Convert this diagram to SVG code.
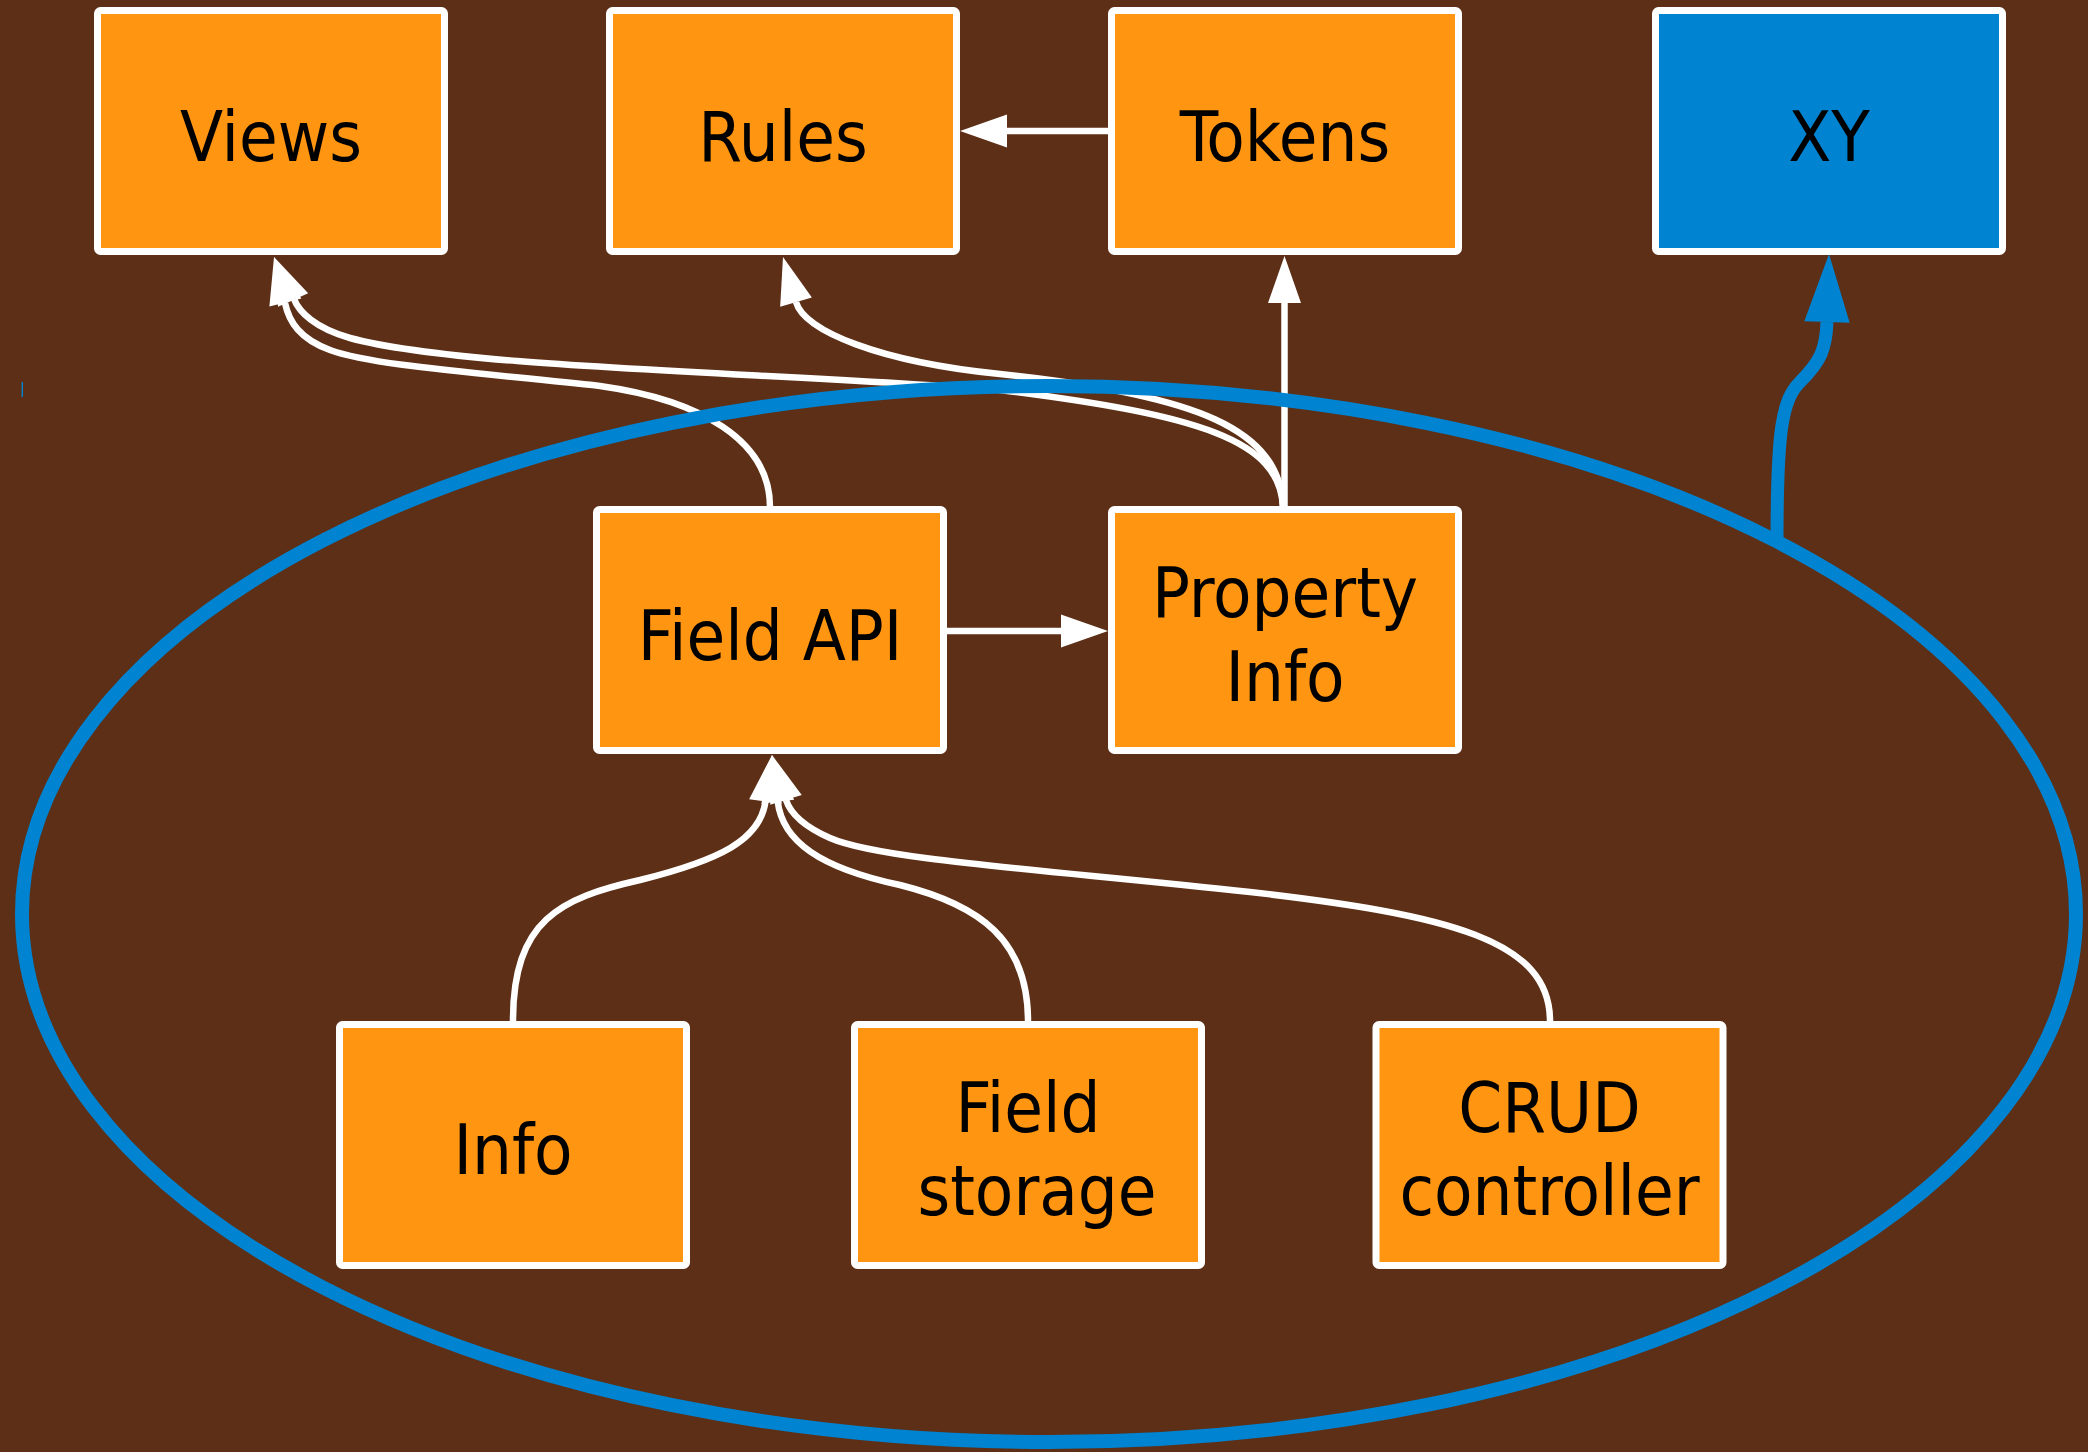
<svg xmlns="http://www.w3.org/2000/svg" width="2088" height="1452" viewBox="0 0 2088 1452">
<style>
.bg{fill:#5C2F16}
.box rect{fill:#FF9511;stroke:#fff;stroke-width:7}
.box.xy rect{fill:#0083D0}
.box text{font-family:'DejaVu Sans Condensed','DejaVu Sans',sans-serif;font-stretch:condensed;font-size:70px;fill:#000;text-anchor:middle}
.edge{fill:none;stroke:#fff;stroke-width:6.5}
.blue{fill:none;stroke:#0083D0;stroke-width:13}
.cluster{fill:none;stroke:#0083D0;stroke-width:14}
</style>
<defs>
<path id="ah" d="M0,0 L-47,-16.5 L-47,16.5 Z" fill="#fff"/>
<path id="ahb" d="M0,0 L-68,-22.7 L-68,22.7 Z" fill="#0083D0"/>
</defs>
<rect class="bg" x="0" y="0" width="2088" height="1452"/>

<g id="connectors">
  <!-- Tokens -> Rules -->
  <path class="edge" d="M1108,131 L1004,131"/>
  <use href="#ah" transform="translate(960,131) rotate(180)"/>
  <!-- Property Info -> Tokens -->
  <path class="edge" d="M1284.5,507 L1284.5,300"/>
  <use href="#ah" transform="translate(1284.5,256) rotate(-90)"/>
  <!-- Field API -> Property Info -->
  <path class="edge" d="M947,631 L1064,631"/>
  <use href="#ah" transform="translate(1108,631)"/>
  <!-- Field API -> Views -->
  <path class="edge" d="M770,507 C770,440 700,400 600,386 C470,372 370,365 330,350 C300,339 289,322 285,303"/>
  <use href="#ah" transform="translate(274,257) rotate(-104)"/>
  <!-- Property Info -> Views -->
  <path class="edge" d="M1283,507 C1280,440 1200,415 1000,390 C760,372 460,368 350,338 C315,328 299,312 294,299"/>
  <use href="#ah" transform="translate(274,257) rotate(-114)"/>
  <!-- Property Info -> Rules -->
  <path class="edge" d="M1283,507 C1280,430 1200,395 1000,374 C880,362 804,331 796,302"/>
  <use href="#ah" transform="translate(783,257) rotate(-106.1)"/>
  <!-- Info -> Field API -->
  <path class="edge" d="M513,1021 C513,920 560,898 640,880 C720,860 760,840 765.5,801.5"/>
  <use href="#ah" transform="translate(772,755) rotate(-82)"/>
  <!-- Field storage -> Field API -->
  <path class="edge" d="M1028,1021 C1028,940 980,905 900,885 C820,868 782.6,841.4 777.7,801.6"/>
  <use href="#ah" transform="translate(772,755) rotate(-97)"/>
  <!-- CRUD controller -> Field API -->
  <path class="edge" d="M1550,1021 C1550,940 1450,915 1250,892 C1050,870 880,860 830,838 C805,827 791,815 786,800"/>
  <use href="#ah" transform="translate(772,755) rotate(-107.3)"/>
</g>

<g id="cluster">
  <ellipse class="cluster" cx="1049" cy="914" rx="1027" ry="528"/>
  <line x1="22.3" y1="382" x2="22.3" y2="397" stroke="#0083D0" stroke-width="1.4"/>
</g>

<g id="connector-xy">
  <path class="blue" d="M1777,542 C1777,430 1782,400 1800,382 C1820,362 1826,350 1827,322"/>
  <use href="#ahb" transform="translate(1829,254) rotate(-88.3)"/>
</g>

<g id="node-views" class="box"><rect x="97.5" y="10.5" width="347" height="241" rx="3"/><text x="271" y="160.5">Views</text></g>
<g id="node-rules" class="box"><rect x="609.5" y="10.5" width="347" height="241" rx="3"/><text x="783" y="160.5">Rules</text></g>
<g id="node-tokens" class="box"><rect x="1111.5" y="10.5" width="347" height="241" rx="3"/><text x="1285" y="160.5">Tokens</text></g>
<g id="node-xy" class="box xy"><rect x="1655.5" y="10.5" width="347" height="241" rx="3"/><text x="1829" y="160.5">XY</text></g>
<g id="node-fieldapi" class="box"><rect x="596.5" y="509.5" width="347" height="241" rx="3"/><text x="770" y="659.5">Field API</text></g>
<g id="node-propertyinfo" class="box"><rect x="1111.5" y="509.5" width="347" height="241" rx="3"/><text x="1285" y="617">Property</text><text x="1285" y="700.5">Info</text></g>
<g id="node-info" class="box"><rect x="339.5" y="1024.5" width="347" height="241" rx="3"/><text x="513" y="1174">Info</text></g>
<g id="node-fieldstorage" class="box"><rect x="854.5" y="1024.5" width="347" height="241" rx="3"/><text x="1028" y="1132">Field</text><text x="1037" y="1214.5">storage</text></g>
<g id="node-crud" class="box"><rect x="1376" y="1024.5" width="347" height="241" rx="3"/><text x="1549.5" y="1132">CRUD</text><text x="1549.5" y="1214.5">controller</text></g>
</svg>
